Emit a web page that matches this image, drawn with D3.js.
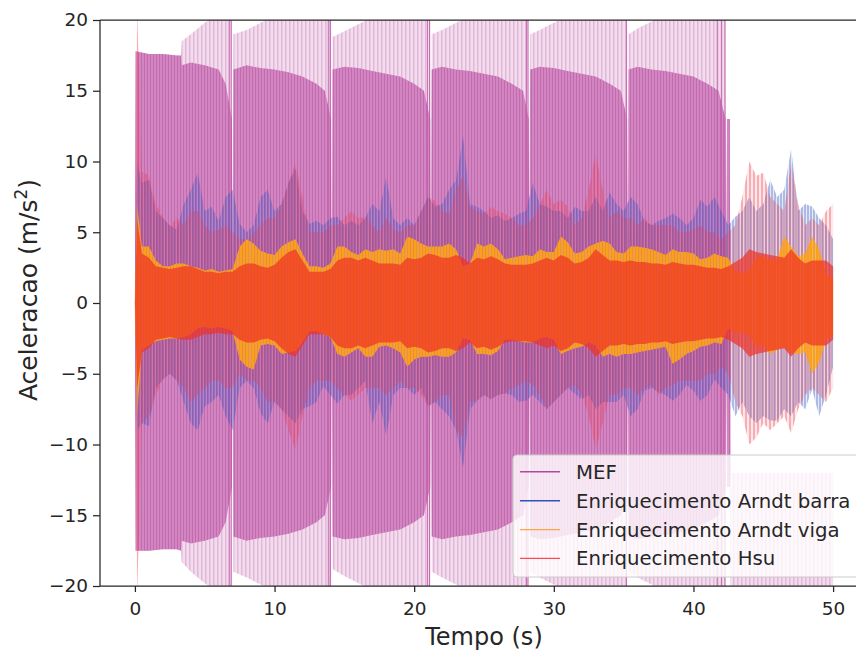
<!DOCTYPE html>
<html>
<head>
<meta charset="utf-8">
<script src="https://cdn.jsdelivr.net/npm/d3@7"></script>
<style>
  body { margin: 0; background: #ffffff; }
  svg { display: block; }
  text { font-family: "DejaVu Sans", sans-serif; fill: #262626; }
</style>
</head>
<body>
<svg id="chart" width="856" height="650"></svg>
<script>
// ---- axis ticks ----
const xTicks = [0, 10, 20, 30, 40, 50];
const yTicks = [-20, -15, -10, -5, 0, 5, 10, 15, 20];

// ---- legend ----
const seriesNames = ["MEF", "Enriquecimento Arndt barra", "Enriquecimento Arndt viga", "Enriquecimento Hsu"];

// ---- sample instants (s) of the response envelopes ----
const sampleTime = [
  0, 0.15, 0.5, 1, 1.5, 2, 2.5, 3, 3.5, 4,
  4.5, 5, 5.5, 6, 6.5, 7, 7.5, 8, 8.5, 9,
  9.5, 10, 10.5, 11, 11.5, 12, 12.5, 13, 13.5, 14,
  14.5, 15, 15.5, 16, 16.5, 17, 17.5, 18, 18.5, 19,
  19.5, 20, 20.5, 21, 21.5, 22, 22.5, 23, 23.5, 24,
  24.5, 25, 25.5, 26, 26.5, 27, 27.5, 28, 28.5, 29,
  29.5, 30, 30.5, 31, 31.5, 32, 32.5, 33, 33.5, 34,
  34.5, 35, 35.5, 36, 36.5, 37, 37.5, 38, 38.5, 39,
  39.5, 40, 40.5, 41, 41.5, 42, 42.5, 43, 43.5, 44,
  44.5, 45, 45.5, 46, 46.5, 47, 47.5, 48, 48.5, 49,
  49.5, 50
];

// Enriquecimento Arndt barra: upper / lower peak acceleration (m/s2)
const barraUpper = [
  0, 10, 8.5, 8.7, 6.5, 6, 5.5, 5.2, 7, 8,
  9.2, 6.5, 6.8, 5.8, 7.5, 8, 5.6, 5, 5.5, 7.5,
  8, 6.5, 7, 8.5, 9.5, 6.5, 5.6, 5.8, 5.5, 6,
  6.1, 5.5, 5.8, 5.5, 6, 7, 6.5, 8.9, 6, 5.5,
  6, 5.5, 6.5, 7.5, 6.8, 7, 8, 8.7, 11.8, 7,
  6.8, 6.5, 6, 6.2, 5.8, 6, 6.3, 6.5, 8.5, 7,
  6.8, 6.5, 6.5, 6, 6.8, 6.5, 6.5, 7.5, 6.5, 7.8,
  7, 6.5, 7.5, 7, 5.8, 5.5, 5.8, 6, 6.3, 6,
  5.5, 6, 7.3, 6.8, 7.5, 6.5, 5.5, 6.1, 6.5, 7.5,
  6.5, 7, 8.7, 7.5, 8, 10.9, 6.5, 7, 6.8, 6,
  5.5, 4.5
];
const barraLower = [
  0, -9, -8.5, -8.7, -6, -5.4, -5, -5.5, -7, -8.5,
  -9, -7.3, -7, -6.5, -8, -9, -6, -5.5, -6, -7.8,
  -8.5, -7, -7.5, -8, -8.5, -7.5, -7.3, -7, -5.9, -6.5,
  -7.1, -6.5, -6.5, -6, -5.5, -8.5, -7, -9.4, -6.5, -6,
  -6, -6.5, -6, -7.3, -7, -7.5, -8, -9, -11.6, -7.5,
  -6.9, -6.5, -6.8, -6.5, -6.4, -6.5, -7, -6.9, -6.5, -7,
  -7.5, -7, -6.5, -6, -6.4, -6.8, -6.5, -7.5, -7, -7,
  -7, -6.5, -8, -7.5, -6.2, -6, -6.3, -6.5, -6.9, -6.5,
  -5.8, -6.2, -6.9, -6.5, -5.4, -6, -6.5, -8, -7, -8,
  -8.5, -8, -8.3, -8.3, -7.5, -8, -7, -7.5, -6.1, -8,
  -6.5, -4.5
];

// Enriquecimento Arndt viga: upper / lower peak acceleration (m/s2)
const vigaUpper = [
  0, 7, 4, 4, 3, 2.6, 2.6, 2.8, 2.8, 2.6,
  2.5, 2.3, 2.4, 2.2, 2.3, 2.4, 4, 4.5, 4.2, 3.7,
  3.5, 3.4, 4, 4.3, 4.5, 3.5, 2.6, 2.6, 2.5, 2.8,
  4, 4, 3.6, 3.4, 3.8, 3.6, 3.8, 3.7, 3.8, 3.5,
  4.7, 4.5, 4.2, 4, 4, 4, 4.2, 3.8, 2.6, 2.8,
  4.2, 4, 4.2, 3.8, 3.1, 3.2, 3.3, 3.4, 3.3, 3.8,
  3.6, 3.6, 4.7, 4.3, 3.5, 3.6, 4, 4.2, 4.4, 4.2,
  3.6, 3.5, 4, 4, 3.9, 3.8, 3.6, 3.4, 3.8, 3.6,
  3.6, 3.5, 3.1, 3.2, 3.5, 3.3, 3.2, 2.2, 2.1, 2.3,
  3.2, 3.3, 3, 3.1, 4.7, 4, 3.3, 3.5, 4.7, 3.8,
  2, 1.8
];
const vigaLower = [
  0, -8, -3.3, -3, -2.7, -2.6, -2.5, -2.5, -2.4, -2.2,
  -1.8, -1.7, -1.8, -1.7, -1.8, -2, -4, -4.5, -4.7, -3,
  -2.9, -3, -3.6, -3.5, -3.4, -2.8, -2, -2, -2.2, -2.4,
  -3.6, -3.8, -3.5, -3.2, -3.8, -3.8, -3.1, -3, -3.2, -3.5,
  -4.5, -4, -3.8, -3.8, -3.7, -3.8, -3.8, -3.5, -2.5, -2.6,
  -3.6, -3.6, -3.7, -3.4, -2.6, -2.6, -2.7, -2.8, -2.8, -2.5,
  -2.4, -2.6, -3.6, -3.4, -3.2, -3.1, -2.8, -3, -3.8, -3.6,
  -3.8, -3.6, -3.6, -3.5, -3.4, -3.3, -3.2, -3.1, -4.3, -4,
  -3.6, -3.4, -3.1, -3, -2.8, -2.9, -1.8, -2.1, -2.1, -2.3,
  -3.1, -3, -3.6, -3.3, -3.1, -3.5, -3.6, -3.5, -5, -4.2,
  -2.6, -2.2
];

// Enriquecimento Hsu: outer peaks and dense core amplitude (m/s2)
const hsuUpper = [
  0, 21, 9.3, 9, 7, 6.1, 5.4, 6, 5.5, 6.5,
  6.5, 5.5, 5, 5.2, 5.5, 5, 4.5, 4.5, 5, 5.5,
  6, 6, 7, 8.5, 9.9, 7.5, 5, 5, 5, 5.5,
  5.5, 6, 6.5, 6, 6.1, 5.5, 5, 6, 5.2, 5,
  5.5, 5.5, 6.5, 7.5, 7.2, 6.5, 6.3, 8, 9, 6.8,
  6.5, 6.3, 6.8, 6.5, 6.3, 6, 5.5, 5.5, 6, 7,
  8, 7, 7.3, 6.8, 5.5, 6, 8, 10.6, 8, 6,
  6.5, 6, 6, 5.5, 6, 5.5, 5.5, 5.5, 5.5, 5,
  5, 5.2, 5.5, 5, 5, 4.5, 5, 5.5, 7.5, 10,
  9, 9.2, 7.5, 7, 6.5, 9.9, 7, 5.5, 6, 5.5,
  6.5, 7
];
const hsuLower = [
  0, -21, -8.5, -8, -6.5, -5.4, -5, -5.5, -6, -7,
  -6.5, -6, -5.5, -5.5, -6, -6, -5, -5.5, -5.5, -6,
  -7, -7, -7.5, -9, -10.4, -8, -6, -5.5, -5.5, -5.5,
  -6, -6.5, -6.9, -6.5, -6, -6, -6, -6.5, -6, -5.5,
  -6, -6, -6.5, -7.3, -7, -6.5, -6.5, -9, -9.5, -7,
  -6.9, -6.5, -6.8, -6.5, -6.4, -6, -5.8, -5.5, -5.8, -6.5,
  -7.5, -7, -6.5, -6, -5.8, -6.5, -8, -10.4, -8.5, -6.5,
  -6.5, -6, -6, -6.5, -6, -5.8, -6.5, -6, -5.8, -5.5,
  -5.5, -5.5, -5.5, -5, -5, -4.5, -5, -7, -8, -10,
  -9.5, -8.5, -9, -8.5, -8, -9.2, -7.5, -6.5, -6, -6.5,
  -7, -6
];
const hsuCore = [
  0, 6, 3.5, 3.2, 2.6, 2.5, 2.4, 2.5, 2.6, 2.6,
  2.4, 2.2, 2.2, 2.1, 2.2, 2.2, 2.6, 2.8, 2.8, 2.6,
  2.5, 2.7, 3.2, 3.6, 3.8, 3, 2.2, 2.2, 2.2, 2.4,
  3, 3.2, 3.2, 3, 3.2, 3, 2.8, 2.8, 2.8, 2.7,
  3.2, 3.1, 3.2, 3.5, 3.4, 3.2, 3.2, 3.4, 3.2, 2.8,
  3.2, 3.1, 3.3, 3.1, 2.8, 2.7, 2.7, 2.7, 2.8, 3,
  3.2, 3, 3.4, 3.2, 2.8, 2.9, 3.2, 3.8, 3.4, 3,
  3, 2.9, 3, 2.9, 2.9, 2.8, 2.8, 2.7, 2.9, 2.8,
  2.7, 2.7, 2.6, 2.5, 2.5, 2.4, 2.6, 2.9, 3.2, 3.8,
  3.6, 3.5, 3.4, 3.3, 3.2, 3.8, 3.2, 2.8, 3, 3,
  3, 2.6
];

// MEF: envelope instants (s), including the short restarts of the record
const mefTime = [
  0, 0.05, 1, 2, 3, 3.3, 3.35, 4, 5, 6, 6.5, 6.95, 7.0,
  7.05, 8, 9, 10, 11, 12, 13, 13.6, 14.05, 14.1,
  14.15, 15, 16, 17, 18, 19, 20, 20.7, 21.15, 21.2,
  21.25, 22, 23, 24, 25, 26, 27, 27.8, 28.2, 28.25,
  28.3, 29, 30, 31, 32, 33, 34, 34.8, 35.25, 35.3,
  35.35, 36, 37, 38, 39, 40, 41, 41.8, 42.3, 42.35,
  42.4, 42.6, 42.65, 50
];
const mefPeakTop = [
  0, 17.8, 17.6, 17.6, 17.5, 17.5, 18.5, 19, 19.8, 20.5, 21, 21, 0,
  19, 19.3, 19.8, 20.3, 20.8, 21, 21, 21, 21, 0,
  18.8, 19.2, 19.7, 20.2, 20.8, 21, 21, 21, 21, 0,
  19, 19.3, 19.8, 20.3, 20.8, 21, 21, 21, 21, 0,
  19, 19.3, 19.8, 20.3, 20.8, 21, 21, 21, 21, 0,
  19, 19.4, 19.9, 20.4, 20.8, 21, 21, 21, 21, 0,
  13, 13, -12, -12
];
const mefPeakBottom = [
  0, -17.5, -17.5, -17.4, -17.4, -17.5, -18.3, -19, -19.8, -20.5, -21, -21, 0,
  -19, -19.4, -19.9, -20.4, -20.8, -21, -21, -21, -21, 0,
  -18.8, -19.3, -19.8, -20.3, -20.8, -21, -21, -21, -21, 0,
  -19, -19.4, -19.9, -20.4, -20.8, -21, -21, -21, -21, 0,
  -19, -19.4, -19.9, -20.4, -20.8, -21, -21, -21, -21, 0,
  -19, -19.4, -19.9, -20.4, -20.8, -21, -21, -21, -21, 0,
  -13, -13, -21, -21
];
const mefCoreTop = [
  0, 17.8, 17.6, 17.6, 17.5, 17.5, 16.8, 17, 16.8, 16.5, 15.5, 13, 0,
  16.5, 16.8, 16.6, 16.5, 16.3, 16, 15.5, 15, 13, 0,
  16.5, 16.7, 16.6, 16.4, 16.2, 16, 15.5, 15, 13, 0,
  16.5, 16.7, 16.5, 16.4, 16.2, 16, 15.5, 15, 13, 0,
  16.5, 16.7, 16.6, 16.4, 16.2, 16, 15.5, 15, 13, 0,
  16.5, 16.7, 16.5, 16.4, 16.2, 16, 15.5, 15, 13, 0,
  13, 13, -12, -12
];
const mefCoreBottom = [
  0, -17.5, -17.5, -17.4, -17.4, -17.5, -16.8, -17, -16.8, -16.5, -15.5, -13, 0,
  -16.5, -16.8, -16.6, -16.5, -16.3, -16, -15.5, -15, -13, 0,
  -16.5, -16.7, -16.6, -16.4, -16.2, -16, -15.5, -15, -13, 0,
  -16.5, -16.7, -16.5, -16.4, -16.2, -16, -15.5, -15, -13, 0,
  -16.5, -16.7, -16.6, -16.4, -16.2, -16, -15.5, -15, -13, 0,
  -16.5, -16.7, -16.5, -16.4, -16.2, -16, -15.5, -15, -13, 0,
  -13, -13, -12, -12
];
// MEF isolated full-scale peaks just before each restart
const mefBurstTime = [6.75, 6.9, 13.85, 14.0, 20.95, 21.1, 28.05, 28.15, 35.2, 41.7, 42.0, 42.25];
const mefBurstPeak = [21, 21, 21, 21, 21, 21, 21, 21, 21, 21, 21, 21];

// ---- colours ----
const colMEF = "#b04a9e", colBarra = "#2f52bd", colViga = "#f9a11b", colHsu = "#ee3b4c";

// ---- layout ----
const plot = { left: 100, right: 868, top: 20, bottom: 586 };
const svg = d3.select("#chart");
const x = d3.scaleLinear().domain([-2.5, 52.5]).range([plot.left, plot.right]);
const y = d3.scaleLinear().domain([-20, 20]).range([plot.bottom, plot.top]);

const defs = svg.append("defs");
defs.append("clipPath").attr("id", "plotClip")
  .append("rect").attr("x", plot.left).attr("y", plot.top)
  .attr("width", plot.right - plot.left).attr("height", plot.bottom - plot.top);

// vertical striation fills: the records oscillate much faster than a pixel column
function stripes(id, w, parts) {
  const p = defs.append("pattern").attr("id", id)
    .attr("patternUnits", "userSpaceOnUse").attr("width", w).attr("height", 8);
  parts.forEach(s => p.append("rect").attr("x", s.x).attr("width", s.w).attr("height", 8)
    .attr("fill", s.fill).attr("fill-opacity", s.op));
}
stripes("mefCore", 3, [{ x: 0, w: 3, fill: "#d286c1", op: 1 }, { x: 0, w: 1, fill: "#c46bb0", op: 1 }]);
stripes("mefFringe", 4, [{ x: 0, w: 4, fill: "#f3dded", op: 1 }, { x: 1, w: 1.5, fill: "#e3b7d9", op: 1 }]);
stripes("barraFill", 3, [{ x: 0, w: 2, fill: colBarra, op: 0.4 }, { x: 2, w: 1, fill: colBarra, op: 0.12 }]);
stripes("hsuFill", 4, [{ x: 1, w: 2, fill: colHsu, op: 0.42 }, { x: 3, w: 2, fill: colHsu, op: 0.12 }, { x: 0, w: 1, fill: colHsu, op: 0.12 }]);
stripes("vigaFill", 3, [{ x: 0, w: 2, fill: colViga, op: 1 }, { x: 2, w: 1, fill: colViga, op: 0.6 }]);

const g = svg.append("g").attr("clip-path", "url(#plotClip)");

function band(times, lower, upper) {
  return d3.area()
    .x((d, i) => x(times[i]))
    .y0((d, i) => y(lower[i]))
    .y1((d, i) => y(upper[i]));
}

// MEF
g.append("path").datum(mefTime).attr("d", band(mefTime, mefPeakBottom, mefPeakTop))
  .attr("fill", "url(#mefFringe)");
g.append("path").datum(mefTime).attr("d", band(mefTime, mefCoreBottom, mefCoreTop))
  .attr("fill", "url(#mefCore)");
g.selectAll("line.burst").data(mefBurstTime).join("line").attr("class", "burst")
  .attr("x1", d => x(d)).attr("x2", d => x(d))
  .attr("y1", (d, i) => y(mefBurstPeak[i])).attr("y2", (d, i) => y(-mefBurstPeak[i]))
  .attr("stroke", "#c05aa8").attr("stroke-width", 1).attr("opacity", 0.85);

// Enriquecimento Arndt barra
g.append("path").datum(sampleTime).attr("d", band(sampleTime, barraLower, barraUpper))
  .attr("fill", "url(#barraFill)");
// Enriquecimento Hsu, sparse outer peaks
g.append("path").datum(sampleTime).attr("d", band(sampleTime, hsuLower, hsuUpper))
  .attr("fill", "url(#hsuFill)");
// Enriquecimento Arndt viga
g.append("path").datum(sampleTime).attr("d", band(sampleTime, vigaLower, vigaUpper))
  .attr("fill", "url(#vigaFill)");
// Enriquecimento Hsu, dense core
g.append("path").datum(sampleTime)
  .attr("d", d3.area().x((d, i) => x(sampleTime[i]))
    .y0((d, i) => y(-hsuCore[i])).y1((d, i) => y(hsuCore[i])))
  .attr("fill", "#f03024").attr("fill-opacity", 0.7);

// ---- axes ----
const ink = "#262626";
const xAxis = svg.append("g").attr("transform", `translate(0,${plot.bottom})`)
  .call(d3.axisBottom(x).tickValues(xTicks).tickSize(6).tickPadding(10).tickFormat(d3.format("d")));
const yAxis = svg.append("g").attr("transform", `translate(${plot.left},0)`)
  .call(d3.axisLeft(y).tickValues(yTicks).tickSize(7).tickPadding(5).tickFormat(d3.format("d")));
[xAxis, yAxis].forEach(a => {
  a.select(".domain").remove();
  a.selectAll(".tick line").attr("stroke", ink).attr("stroke-width", 1.25);
  a.selectAll(".tick text").attr("font-size", 18.5).attr("fill", ink)
    .style("font-family", "'DejaVu Sans', sans-serif");
});

// spines
const spines = svg.append("g").attr("stroke", ink).attr("stroke-width", 1.25);
spines.append("line").attr("x1", plot.left).attr("x2", plot.left).attr("y1", plot.top).attr("y2", plot.bottom);
spines.append("line").attr("x1", plot.left).attr("x2", plot.right).attr("y1", plot.bottom).attr("y2", plot.bottom);
spines.append("line").attr("x1", plot.left).attr("x2", plot.right).attr("y1", plot.top).attr("y2", plot.top);

// axis titles
svg.append("text").attr("x", (plot.left + plot.right) / 2).attr("y", 645)
  .attr("text-anchor", "middle").attr("font-size", 24).text("Tempo (s)");
const yl = svg.append("text").attr("transform", "translate(37,290) rotate(-90)")
  .attr("text-anchor", "middle").attr("font-size", 25);
yl.append("tspan").text("Aceleracao (m/s");
yl.append("tspan").attr("font-size", 17).attr("dy", -10).text("2");
yl.append("tspan").attr("dy", 10).text(")");

// ---- legend ----
const lg = svg.append("g");
lg.append("rect").attr("x", 513).attr("y", 455).attr("width", 360).attr("height", 122)
  .attr("rx", 4).attr("fill", "#ffffff").attr("fill-opacity", 0.8)
  .attr("stroke", "#cccccc").attr("stroke-width", 1);
const legendColors = [colMEF, colBarra, "#ffa640", "#ff4a55"];
const rowY = [471.7, 500.8, 529.6, 558.4];
seriesNames.forEach((name, i) => {
  lg.append("line").attr("x1", 520).attr("x2", 560).attr("y1", rowY[i]).attr("y2", rowY[i])
    .attr("stroke", legendColors[i]).attr("stroke-width", 1.4);
  lg.append("text").attr("x", 576).attr("y", rowY[i] + 7).attr("font-size", 19.7).text(name);
});
</script>
</body>
</html>
